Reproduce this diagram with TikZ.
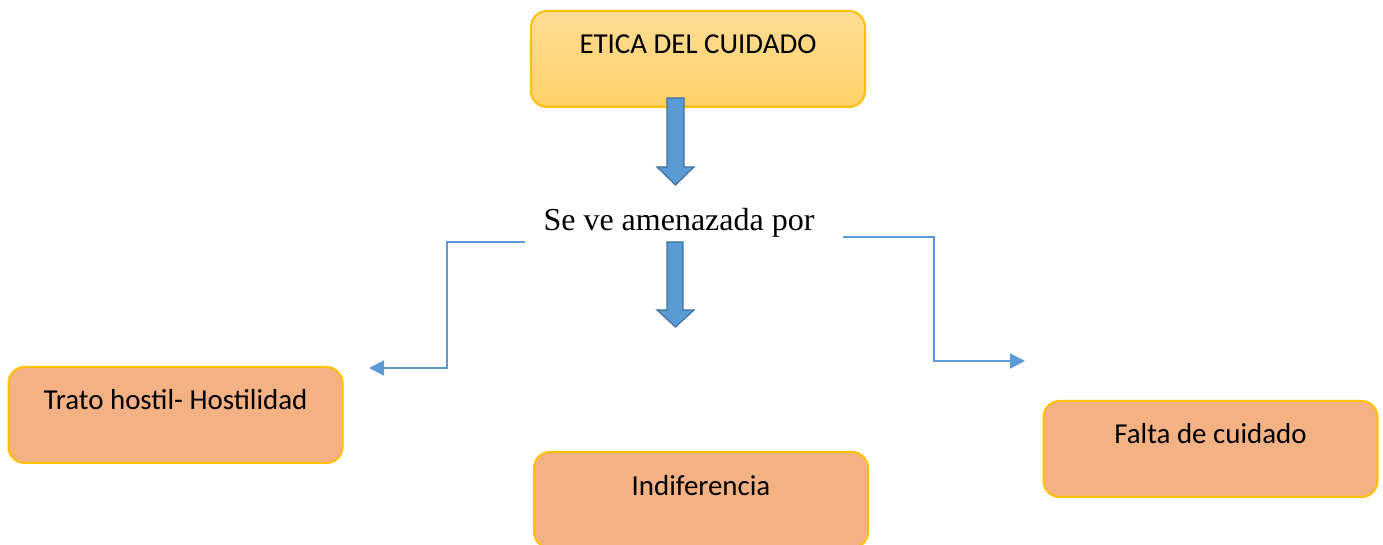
\documentclass[tikz,border=0pt]{standalone}
\usepackage{fontspec}
\setmainfont{Carlito}
\newfontfamily\tiempos{Liberation Serif}
\usetikzlibrary{arrows.meta}
\definecolor{borde}{HTML}{FFC000}
\definecolor{naranja}{HTML}{F4B183}
\definecolor{azul}{HTML}{5B9BD5}
\definecolor{azuloscuro}{HTML}{41719C}
\definecolor{amarilloarriba}{HTML}{FFDC96}
\definecolor{amarilloabajo}{HTML}{FFD166}
\tikzset{
  caja/.style={rectangle, rounded corners=8pt, draw=borde, line width=1pt,
    minimum width=167pt, inner sep=0pt, text height=21.5pt, text depth=26.5pt,
    anchor=north, font=\fontsize{14.45pt}{17pt}\selectfont},
  riesgo/.style={fill=naranja},
  conector/.style={draw=azul, line width=1pt, -{Triangle[length=7.5pt,width=7.5pt]}},
  bloque/.style={fill=azul, draw=azuloscuro, line width=0.6pt}
}
\begin{document}
\begin{tikzpicture}[x=0.5pt, y=-0.5pt]
        \useasboundingbox (0,0) rectangle (1383,545);

        % Caja principal
        \node[caja, top color=amarilloarriba, bottom color=amarilloabajo] (etica) at (698,10) {ETICA DEL CUIDADO};

        % Flecha de bloque arriba
        \draw[bloque] (667,98) -- (684,98) -- (684,167) -- (694,167) -- (675.5,185) -- (657,167) -- (667,167) -- cycle;

        % Texto central
        \node[font=\tiempos\fontsize{16pt}{19pt}\selectfont, anchor=base] (amenaza) at (679,231) {Se ve amenazada por};

        % Flecha de bloque abajo
        \draw[bloque] (667,242) -- (683,242) -- (683,310) -- (694,310) -- (675.5,327) -- (657,310) -- (667,310) -- cycle;

        % Cajas de abajo
        \node[caja, riesgo] (hostil) at (175.5,366) {Trato hostil- Hostilidad};
        \node[caja, riesgo] (indif) at (701,451) {Indiferencia};
        \node[caja, riesgo] (falta) at (1210.5,400) {Falta de cuidado};

        % Conectores
        \coordinate (izqIni) at (525,242);
        \coordinate (izqFin) at (369,368);
        \coordinate (derIni) at (843,237);
        \coordinate (derFin) at (1025,361);
        \draw[conector] (izqIni) -- (447,242) |- (izqFin); % izquierda
        \draw[conector] (derIni) -- (934,237) |- (derFin); % derecha

\end{tikzpicture}
\end{document}
